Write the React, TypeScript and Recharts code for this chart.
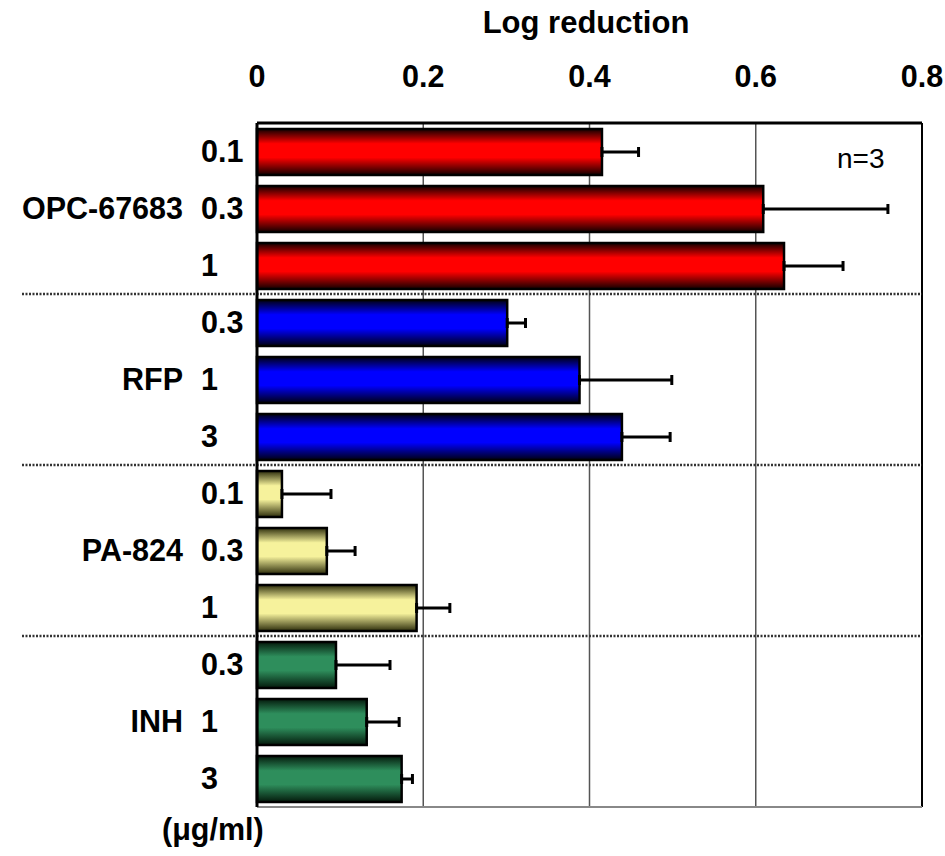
import React from 'react';
import { BarChart, Bar, XAxis, YAxis, CartesianGrid, ErrorBar, Cell, ReferenceLine } from 'recharts';

// ---- data ----
const groups = ['OPC-67683', 'RFP', 'PA-824', 'INH'];
const opcDoses = ['0.1', '0.3', '1'];
const rfpDoses = ['0.3', '1', '3'];
const paDoses = ['0.1', '0.3', '1'];
const inhDoses = ['0.3', '1', '3'];

const opcValues = [0.415, 0.609, 0.634];
const rfpValues = [0.301, 0.388, 0.439];
const paValues = [0.030, 0.084, 0.192];
const inhValues = [0.095, 0.132, 0.174];

const opcErrors = [0.044, 0.150, 0.071];
const rfpErrors = [0.022, 0.111, 0.058];
const paErrors = [0.059, 0.034, 0.040];
const inhErrors = [0.065, 0.039, 0.013];

const xTicks = [0, 0.2, 0.4, 0.6, 0.8];
const xTickLabels = ['0', '0.2', '0.4', '0.6', '0.8'];

const xTitle = 'Log reduction';
const nLabel = 'n=3';
const unitLabel = '(μg/ml)';

const groupColors = [
  { edge: '#120000', mid: '#ff0000' },
  { edge: '#000012', mid: '#0000ff' },
  { edge: '#2e2e0c', mid: '#f6f29c' },
  { edge: '#041a0c', mid: '#2e8e5c' },
];

const dosesByGroup = [opcDoses, rfpDoses, paDoses, inhDoses];
const valuesByGroup = [opcValues, rfpValues, paValues, inhValues];
const errorsByGroup = [opcErrors, rfpErrors, paErrors, inhErrors];

type Row = { key: string; group: string; dose: string; value: number; err: number[]; gi: number; di: number };

const rows: Row[] = [];
groups.forEach((g, gi) => {
  dosesByGroup[gi].forEach((d, di) => {
    rows.push({
      key: `${g}|${d}`,
      group: g,
      dose: d,
      value: valuesByGroup[gi][di],
      err: [0, errorsByGroup[gi][di]],
      gi,
      di,
    });
  });
});

const FONT = '"Liberation Sans", Arial, Helvetica, sans-serif';
const FS = 30.5;

const YTick = (props: any) => {
  const { x, y, payload } = props;
  const row = rows.find((r) => r.key === payload.value);
  if (!row) return null;
  return (
    <g>
      <text x={x - 56} y={y} dy="0.36em" textAnchor="start" fontFamily={FONT} fontWeight="bold" fontSize={FS} fill="#000">
        {row.dose}
      </text>
      {row.di === 1 && (
        <text x={x - 74} y={y} dy="0.36em" textAnchor="end" fontFamily={FONT} fontWeight="bold" fontSize={FS} fill="#000">
          {row.group}
        </text>
      )}
    </g>
  );
};

const XTick = (props: any) => {
  const { x, y, payload } = props;
  const idx = xTicks.indexOf(payload.value);
  const label = idx >= 0 ? xTickLabels[idx] : String(payload.value);
  return (
    <text x={x} y={y - 36} textAnchor="middle" fontFamily={FONT} fontWeight="bold" fontSize={FS} fill="#000">
      {label}
    </text>
  );
};

const Separator = (props: any) => {
  const { x2, y1, y2 } = props;
  return <line x1={22} y1={y1} x2={x2} y2={y2} stroke="#333" strokeWidth={2.5} strokeDasharray="2 1.5" />;
};

export default function App() {
  const W = 945;
  const H = 856;
  const groupStarts = rows.filter((r) => r.di === 0 && r.gi > 0);
  const lastKey = rows[rows.length - 1].key;
  return (
    <div style={{ position: 'absolute', left: 0, top: 0, width: W, height: H, background: '#fff' }}>
      <BarChart
        width={W}
        height={H}
        data={rows}
        layout="vertical"
        margin={{ top: 0, right: 23, bottom: 49, left: 0 }}
        barCategoryGap="20%"
      >
        <defs>
          {groupColors.map((c, i) => (
            <linearGradient key={i} id={`grad-${i}`} x1="0" y1="0" x2="0" y2="1">
              <stop offset="0%" stopColor={c.edge} />
              <stop offset="32%" stopColor={c.mid} />
              <stop offset="62%" stopColor={c.mid} />
              <stop offset="100%" stopColor={c.edge} />
            </linearGradient>
          ))}
        </defs>
        <CartesianGrid horizontal={false} vertical={true} stroke="#555" strokeWidth={1.5} />
        <XAxis
          type="number"
          orientation="top"
          domain={[0, 0.8]}
          ticks={xTicks}
          height={123}
          tickSize={0}
          tickMargin={0}
          tick={<XTick />}
          axisLine={{ stroke: '#000', strokeWidth: 3 }}
          tickLine={false}
          interval={0}
        />
        <YAxis
          type="category"
          dataKey="key"
          width={257}
          tickSize={0}
          tickMargin={0}
          tick={<YTick />}
          tickLine={false}
          axisLine={{ stroke: '#000', strokeWidth: 3 }}
          interval={0}
        />
        <ReferenceLine x={0.8} stroke="#000" strokeWidth={2} />
        <ReferenceLine y={lastKey} position="end" stroke="#888" strokeWidth={2} />
        {groupStarts.map((r) => (
          <ReferenceLine key={r.key} y={r.key} position="start" shape={<Separator />} />
        ))}
        <Bar dataKey="value" barSize={46} stroke="#000" strokeWidth={2.5} isAnimationActive={false}>
          {rows.map((r) => (
            <Cell key={r.key} fill={`url(#grad-${r.gi})`} />
          ))}
          <ErrorBar dataKey="err" direction="x" width={5} stroke="#000" strokeWidth={3} isAnimationActive={false} />
        </Bar>
      </BarChart>
      <svg width={W} height={H} style={{ position: 'absolute', left: 0, top: 0, pointerEvents: 'none' }}>
        <text x={586} y={33} textAnchor="middle" fontFamily={FONT} fontWeight="bold" fontSize={31} fill="#000">
          {xTitle}
        </text>
        <text x={837} y={168} textAnchor="start" fontFamily={FONT} fontSize={28} fill="#000">
          {nLabel}
        </text>
        <text x={162} y={840} textAnchor="start" fontFamily={FONT} fontWeight="bold" fontSize={FS} fill="#000">
          {unitLabel}
        </text>
      </svg>
    </div>
  );
}
